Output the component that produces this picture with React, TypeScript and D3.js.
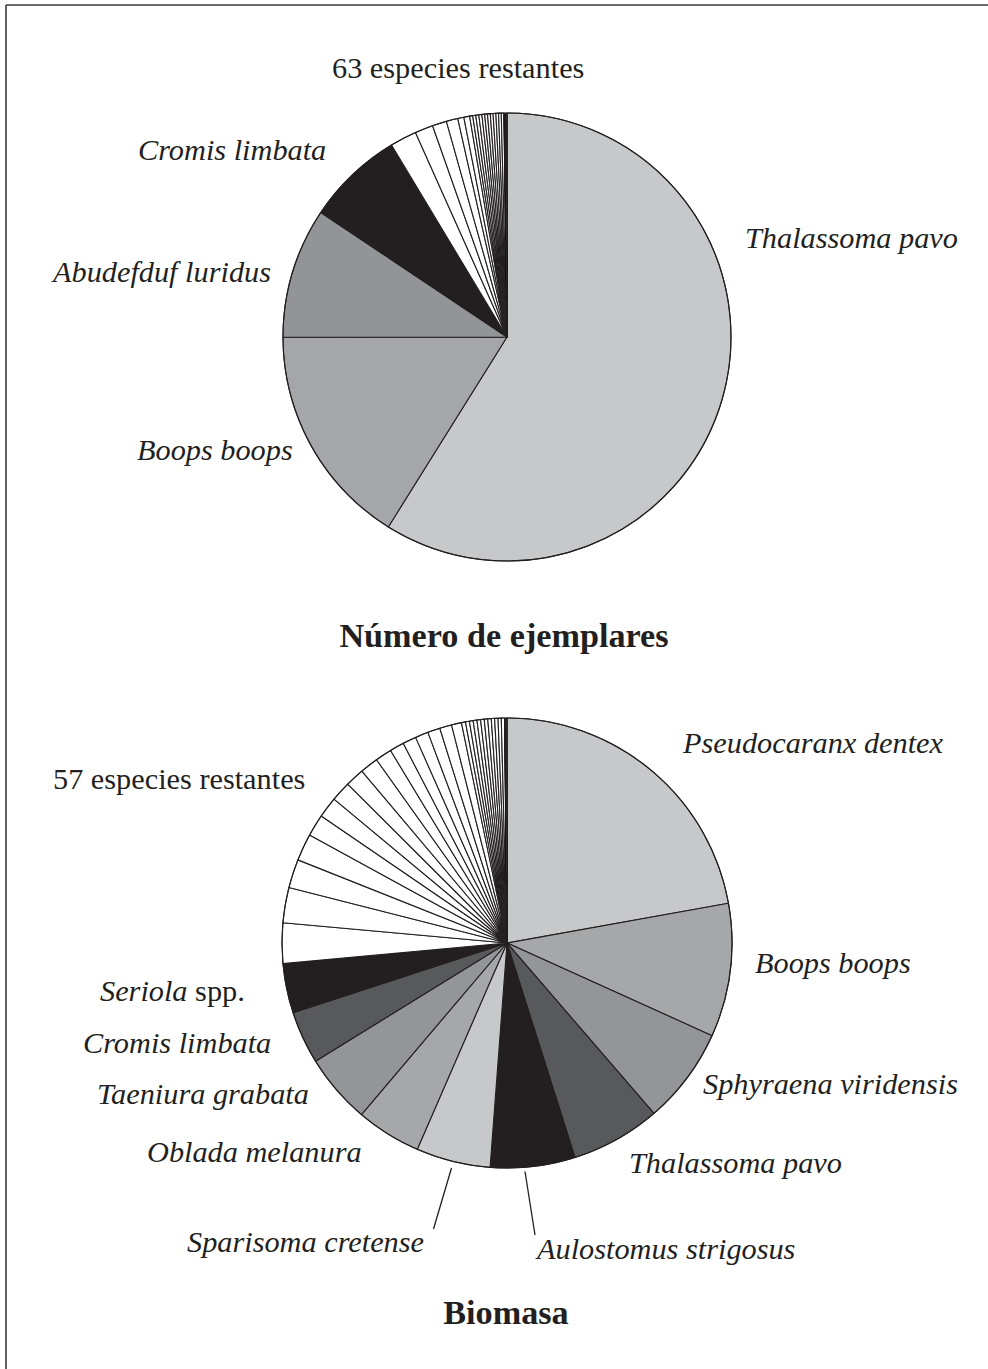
import React from "react";
import * as d3 from "d3";

// ---------- Data: Número de ejemplares (percent) ----------
const topMainNames = ["Thalassoma pavo", "Boops boops", "Abudefduf luridus", "Cromis limbata"];
const topMainValues = [58.9, 16.1, 9.4, 7.0];
const topMainColors = ["#c7c8ca", "#a5a6a9", "#939497", "#231f20"];
const topRestValues = [
  1.92, 1.31, 1.03, 0.83, 0.44, 0.42, 0.22, 0.22, 0.22, 0.22, 0.2, 0.2, 0.2,
  0.2, 0.2, 0.19, 0.19, 0.19,
  0.006, 0.006, 0.006, 0.006, 0.006, 0.006, 0.006, 0.006, 0.006, 0.006, 0.006,
  0.005, 0.005, 0.005, 0.005, 0.005, 0.005, 0.005, 0.005, 0.005, 0.005, 0.005,
  0.005, 0.005, 0.005, 0.005, 0.005, 0.005, 0.005, 0.005, 0.005, 0.005, 0.005,
  0.004, 0.004, 0.004, 0.004, 0.004, 0.004, 0.004, 0.004, 0.004, 0.004, 0.004,
];

// ---------- Data: Biomasa (percent) ----------
const botMainNames = [
  "Pseudocaranx dentex", "Boops boops", "Sphyraena viridensis", "Thalassoma pavo",
  "Aulostomus strigosus", "Sparisoma cretense", "Oblada melanura", "Taeniura grabata",
  "Cromis limbata", "Seriola spp.",
];
const botMainValues = [22.17, 9.58, 6.92, 6.44, 6.08, 5.33, 4.67, 5.0, 3.78, 3.56];
const botMainColors = [
  "#c7c8ca", "#a6a7a9", "#939598", "#58595b", "#231f20",
  "#c7c8ca", "#a6a7a9", "#939598", "#58595b", "#231f20",
];
const botRestValues = [
  2.89, 2.53, 2.06, 1.94, 1.58, 1.5, 1.44, 1.36, 1.31, 1.19, 1.03, 0.97, 0.94, 0.89, 0.86, 0.72,
  0.29, 0.28, 0.27, 0.27, 0.26, 0.26, 0.25, 0.25, 0.24, 0.24, 0.23, 0.23,
  0.007, 0.007, 0.007, 0.007, 0.007, 0.007, 0.007, 0.007, 0.007, 0.007,
  0.006, 0.006, 0.006, 0.006, 0.006, 0.006, 0.006, 0.006, 0.006, 0.006,
  0.005, 0.005, 0.005, 0.005, 0.005, 0.005, 0.005, 0.005, 0.005,
];

type Slice = { name: string; v: number; color: string; rest: boolean };

function buildSlices(names: string[], values: number[], colors: string[], rest: number[]): Slice[] {
  const main = names.map((n, i) => ({ name: n, v: values[i], color: colors[i], rest: false }));
  const others = rest.map((v, i) => ({ name: "resto" + i, v, color: "#ffffff", rest: true }));
  return [...main, ...others];
}

const serif = "'Liberation Serif', 'Times New Roman', Times, serif";

function Pie({ cx, cy, r, data }: { cx: number; cy: number; r: number; data: Slice[] }) {
  const pie = d3.pie<Slice>().sort(null).value((d) => d.v);
  const arc = d3.arc<d3.PieArcDatum<Slice>>().innerRadius(0).outerRadius(r);
  const arcs = pie(data);
  return (
    <g transform={`translate(${cx},${cy})`}>
      {arcs.map((a, i) => (
        <path
          key={i}
          d={arc(a) || ""}
          fill={a.data.color}
          stroke="#231f20"
          strokeWidth={a.data.rest && a.data.v < 0.1 ? 0.45 : 1.1}
          strokeLinejoin="round"
        />
      ))}
      <circle r={r} fill="none" stroke="#231f20" strokeWidth={1.1} />
    </g>
  );
}

type Lbl = { text: string; x: number; y: number; italic?: boolean };

const topLabels: Lbl[] = [
  { text: "63 especies restantes", x: 332, y: 78 },
  { text: "Cromis limbata", x: 138, y: 160, italic: true },
  { text: "Thalassoma pavo", x: 745, y: 248, italic: true },
  { text: "Abudefduf luridus", x: 53, y: 282, italic: true },
  { text: "Boops boops", x: 137, y: 460, italic: true },
];

const botLabels: Lbl[] = [
  { text: "Pseudocaranx dentex", x: 683, y: 753, italic: true },
  { text: "57 especies restantes", x: 53, y: 789 },
  { text: "Boops boops", x: 755, y: 973, italic: true },
  { text: "Cromis limbata", x: 83, y: 1053, italic: true },
  { text: "Sphyraena viridensis", x: 703, y: 1094, italic: true },
  { text: "Taeniura grabata", x: 97, y: 1104, italic: true },
  { text: "Oblada melanura", x: 147, y: 1162, italic: true },
  { text: "Thalassoma pavo", x: 629, y: 1173, italic: true },
  { text: "Sparisoma cretense", x: 187, y: 1252, italic: true },
  { text: "Aulostomus strigosus", x: 537, y: 1259, italic: true },
];

export default function App() {
  const topData = buildSlices(topMainNames, topMainValues, topMainColors, topRestValues);
  const botData = buildSlices(botMainNames, botMainValues, botMainColors, botRestValues);
  const fs = 30.3;
  return (
    <svg
      width={988}
      height={1369}
      style={{ position: "absolute", left: 0, top: 0, background: "#fff" }}
      fontFamily={serif}
    >
      <rect x={0} y={0} width={988} height={1369} fill="#fff" />
      <line x1={6} y1={5} x2={988} y2={5} stroke="#3a3a3a" strokeWidth={1.6} />
      <line x1={6} y1={5} x2={6} y2={1369} stroke="#3a3a3a" strokeWidth={1.6} />

      <Pie cx={507} cy={337} r={224} data={topData} />
      <Pie cx={507} cy={943} r={225} data={botData} />

      {topLabels.concat(botLabels).map((l, i) => (
        <text key={i} x={l.x} y={l.y} fontSize={fs} fontStyle={l.italic ? "italic" : "normal"} fill="#231f20">
          {l.text}
        </text>
      ))}
      <text x={100} y={1001} fontSize={fs} fill="#231f20">
        <tspan fontStyle="italic">Seriola</tspan>
        <tspan> spp.</tspan>
      </text>

      <line x1={451.5} y1={1168} x2={433.5} y2={1229} stroke="#231f20" strokeWidth={1.3} />
      <line x1={525} y1={1171.5} x2={535} y2={1235} stroke="#231f20" strokeWidth={1.3} />

      <text x={504} y={647} fontSize={34.2} fontWeight="bold" textAnchor="middle" fill="#231f20">
        Número de ejemplares
      </text>
      <text x={506} y={1324} fontSize={34.2} fontWeight="bold" textAnchor="middle" fill="#231f20">
        Biomasa
      </text>
    </svg>
  );
}
